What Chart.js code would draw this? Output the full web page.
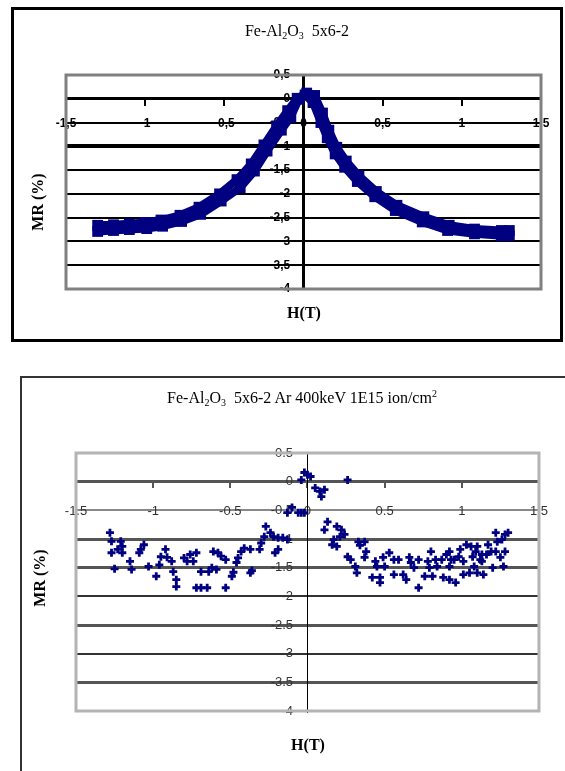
<!DOCTYPE html>
<html>
<head>
<meta charset="utf-8">
<script src="https://cdn.jsdelivr.net/npm/chart.js@4.4.1/dist/chart.umd.min.js"></script>
<style>
    body { margin: 0; background: #fff; width: 565px; height: 771px; position: relative; overflow: hidden;
           font-family: "Liberation Serif", "Times New Roman", serif; }
    .frame { position: absolute; box-sizing: border-box; }
    #frameTop { left: 11px; top: 7px; width: 552px; height: 335px; border: 3px solid #000; }
    #frameBot { left: 20px; top: 376px; width: 560px; height: 400px; border: 2px solid #333; }
    canvas { position: absolute; left: 0; }
    .title { position: absolute; font-size: 16px; white-space: nowrap; transform: translate(-50%, -50%); color: #000; }
    .title sub { font-size: 10px; vertical-align: -3px; }
    .title sup { font-size: 10px; vertical-align: 6px; }
    .axlab { position: absolute; font-weight: bold; font-size: 16px; white-space: nowrap; color: #000; }
    .ylab { transform: translate(-50%, -50%) rotate(-90deg); }
    .xlab { transform: translate(-50%, -50%); }
</style>
</head>
<body>
<div class="frame" id="frameTop"></div>
<div class="frame" id="frameBot"></div>
<canvas id="chartTop" width="565" height="345" style="top:0"></canvas>
<canvas id="chartBot" width="565" height="416" style="top:355px"></canvas>

<div class="title" style="left:297px; top:31px;">Fe-Al<sub>2</sub>O<sub>3</sub>&nbsp; 5x6-2</div>
<div class="axlab ylab" style="left:38px; top:202px;">MR (%)</div>
<div class="axlab xlab" style="left:304px; top:313px;">H(T)</div>

<div class="title" style="left:302px; top:398px;">Fe-Al<sub>2</sub>O<sub>3</sub>&nbsp; 5x6-2 Ar 400keV 1E15 ion/cm<sup>2</sup></div>
<div class="axlab ylab" style="left:40px; top:578px;">MR (%)</div>
<div class="axlab xlab" style="left:308px; top:745px;">H(T)</div>

<script>
// axis ticks + labels
const hTicks      = [-1.5, -1, -0.5, 0, 0.5, 1, 1.5];
const hLabelsTop  = ["-1,5", "-1", "-0,5", "0", "0,5", "1", "1,5"];
const hLabelsBot  = ["-1.5", "-1", "-0.5", "0", "0.5", "1", "1.5"];
const mrTicks     = [-4, -3.5, -3, -2.5, -2, -1.5, -1, -0.5, 0, 0.5];
const mrLabelsTop = ["-4", "-3,5", "-3", "-2,5", "-2", "-1,5", "-1", "-0,5", "0", "0,5"];
const mrLabelsBot = ["-4", "-3.5", "-3", "-2.5", "-2", "-1.5", "-1", "-0.5", "0", "0.5"];

// top chart: as-deposited loop, field sweep up / sweep down
const upH   = [-1.30, -1.20, -1.10, -1.00, -0.90, -0.78, -0.66, -0.53, -0.42, -0.33,
               -0.25, -0.17, -0.10, -0.04, 0.02, 0.07, 0.12, 0.16, 0.21, 0.27,
               0.35, 0.46, 0.59, 0.76, 0.92, 1.08, 1.25, 1.30];
const upMR  = [-2.66, -2.65, -2.63, -2.60, -2.55, -2.45, -2.28, -2.00, -1.70, -1.37,
               -0.97, -0.57, -0.25, 0.01, 0.12, 0.07, -0.30, -0.66, -1.02, -1.31,
               -1.62, -1.95, -2.24, -2.48, -2.66, -2.74, -2.77, -2.77];
const downH  = [1.30, 1.25, 1.08, 0.91, 0.75, 0.58, 0.45, 0.34, 0.26, 0.20,
                0.15, 0.11, 0.06, 0.01, -0.03, -0.08, -0.14, -0.23, -0.31, -0.40,
                -0.52, -0.65, -0.77, -0.89, -0.99, -1.10, -1.20, -1.30];
const downMR = [-2.88, -2.88, -2.84, -2.77, -2.59, -2.35, -2.06, -1.74, -1.44, -1.16,
                -0.82, -0.50, -0.08, 0.08, -0.01, -0.38, -0.66, -1.10, -1.52, -1.87,
                -2.15, -2.43, -2.58, -2.68, -2.73, -2.75, -2.77, -2.79];

// bottom chart: after Ar irradiation, [H, MR]
const irrNeg = [
    [-1.28,-0.89],[-1.27,-1.04],[-1.21,-1.04],[-1.20,-1.13],[-1.23,-1.18],[-1.27,-1.24],[-1.25,-1.52],[-1.20,-1.24],
    [-1.15,-1.39],[-1.14,-1.53],[-1.09,-1.24],[-1.06,-1.10],[-1.08,-1.18],[-1.03,-1.48],[-0.98,-1.65],[-0.96,-1.45],
    [-0.95,-1.31],[-0.92,-1.18],[-0.91,-1.32],[-0.88,-1.39],[-0.87,-1.57],[-0.85,-1.71],[-0.85,-1.83],[-0.80,-1.33],
    [-0.78,-1.39],[-0.76,-1.27],[-0.72,-1.24],[-0.74,-1.39],[-0.72,-1.85],[-0.69,-1.85],[-0.65,-1.85],[-0.69,-1.57],
    [-0.64,-1.57],[-0.62,-1.50],[-0.61,-1.22],[-0.58,-1.24],[-0.56,-1.30],[-0.53,-1.36],[-0.59,-1.53],[-0.53,-1.85],
    [-0.49,-1.65],[-0.48,-1.58],[-0.46,-1.41],[-0.45,-1.33],[-0.43,-1.22],[-0.41,-1.16],[-0.37,-1.18],[-0.37,-1.59],
    [-0.36,-1.55],[-0.31,-1.18],[-0.30,-1.07],[-0.28,-0.96],[-0.27,-0.78],[-0.24,-0.89],[-0.22,-0.96],[-0.19,-0.98],
    [-0.16,-0.98],[-0.13,-1.01],[-0.21,-1.24],[-0.19,-1.18],[-0.13,-0.54],[-0.10,-0.45],[-0.06,-0.54],[-0.02,-0.54]
];
const irrPos = [
    [0.00,0.12],[-0.02,0.16],[0.02,0.09],[-0.04,0.03],[0.05,-0.11],[0.08,-0.17],[0.09,-0.26],[0.11,-0.14],
    [0.26,0.03],[-0.04,-0.54],[0.13,-0.70],[0.11,-0.84],[0.19,-0.78],[0.22,-0.84],[0.24,-0.92],[0.21,-0.96],
    [0.17,-1.01],[0.16,-1.10],[0.19,-1.13],[0.33,-1.05],[0.37,-1.05],[0.34,-1.11],[0.26,-1.31],[0.28,-1.36],
    [0.31,-1.48],[0.32,-1.59],[0.38,-1.22],[0.37,-1.32],[0.44,-1.39],[0.45,-1.48],[0.49,-1.32],[0.50,-1.48],
    [0.53,-1.24],[0.56,-1.36],[0.59,-1.36],[0.42,-1.67],[0.47,-1.76],[0.47,-1.67],[0.56,-1.62],[0.62,-1.62],
    [0.64,-1.71],[0.66,-1.32],[0.67,-1.41],[0.72,-1.36],[0.69,-1.50],[0.72,-1.85],[0.76,-1.65],[0.78,-1.39],
    [0.79,-1.50],[0.80,-1.22],[0.81,-1.65],[0.83,-1.36],[0.84,-1.48],[0.88,-1.67],[0.87,-1.36],[0.90,-1.27],
    [0.92,-1.22],[0.93,-1.36],[0.92,-1.48],[0.92,-1.71],[0.96,-1.76],[0.95,-1.36],[0.98,-1.31],[1.01,-1.39],
    [0.99,-1.18],[1.03,-1.10],[1.06,-1.13],[1.01,-1.62],[1.05,-1.59],[1.07,-1.31],[1.09,-1.22],[1.08,-1.48],
    [1.10,-1.59],[1.12,-1.36],[1.13,-1.27],[1.14,-1.62],[1.17,-1.10],[1.19,-1.22],[1.20,-1.50],[1.22,-0.89],
    [1.23,-1.05],[1.25,-1.32],[1.26,-1.01],[1.28,-0.92],[1.27,-1.48],[1.28,-1.22],[1.22,-1.22],[1.10,-1.13],
    [1.16,-1.27],[1.13,-1.39],[1.30,-0.89]
];

const NAVY = "#000080";
const YLABEL_GAP = "    ";   // y labels sit a bit left of the centred axis

function toPoints(xs, ys) {
    return xs.map(function (x, i) { return { x: x, y: ys[i] }; });
}
function pairsToPoints(list) {
    return list.map(function (p) { return { x: p[0], y: p[1] }; });
}

// grey frame round the plot area (Excel style)
const plotFrame = {
    id: "plotFrame",
    beforeDatasetsDraw(chart, args, opts) {
        const a = chart.chartArea, c = chart.ctx;
        c.save();
        c.strokeStyle = opts.color;
        c.lineWidth = opts.width;
        c.strokeRect(a.left, a.top, a.right - a.left, a.bottom - a.top);
        c.restore();
    }
};

function baseOptions(cfg) {
    return {
        responsive: false,
        animation: false,
        layout: { padding: cfg.padding },
        plugins: {
            legend: { display: false },
            tooltip: { enabled: false },
            title: { display: false },
            plotFrame: { color: cfg.frameColor, width: cfg.frameWidth }
        },
        scales: {
            x: {
                type: "linear",
                position: { y: 0 },
                min: -1.5, max: 1.5,
                afterBuildTicks: function (s) { s.ticks = hTicks.map(function (v) { return { value: v }; }); },
                ticks: {
                    autoSkip: false, maxRotation: 0,
                    padding: cfg.xPad,
                    color: cfg.tickColor,
                    font: cfg.tickFont,
                    callback: function (v, i) { return cfg.hLabels[i]; }
                },
                grid: { drawOnChartArea: false, drawTicks: true, tickLength: cfg.xTickLen, color: cfg.xAxisColor, lineWidth: 2 },
                border: { color: cfg.xAxisColor, width: cfg.xAxisWidth }
            },
            y: {
                type: "linear",
                position: { x: 0 },
                min: -4, max: 0.5,
                afterBuildTicks: function (s) { s.ticks = mrTicks.map(function (v) { return { value: v }; }); },
                ticks: {
                    autoSkip: false,
                    padding: 8,
                    color: cfg.tickColor,
                    font: cfg.tickFont,
                    callback: function (v, i) { return cfg.mrLabels[i] + YLABEL_GAP; }
                },
                grid: {
                    drawTicks: true, tickLength: 5,
                    color: cfg.gridColor,
                    lineWidth: cfg.gridWidth
                },
                border: { color: cfg.yAxisColor, width: cfg.yAxisWidth }
            }
        }
    };
}

// ── TOP CHART ──
const topCfg = {
    padding: { left: 66, right: 24, top: 75, bottom: 56 },
    frameColor: "#808080", frameWidth: 3,
    xPad: 12, xTickLen: 6, tickColor: "#000",
    tickFont: { family: "Liberation Sans", size: 12, weight: "bold" },
    hLabels: hLabelsTop, mrLabels: mrLabelsTop,
    xAxisColor: "#000", xAxisWidth: 3,
    yAxisColor: "#000", yAxisWidth: 3,
    gridColor: function (c) { return (c.tick && (c.tick.value === 0.5 || c.tick.value === -4)) ? "rgba(0,0,0,0)" : "#000"; },
    gridWidth: function (c) { return (c.tick && c.tick.value === -1) ? 4 : 2; }
};

new Chart(document.getElementById("chartTop"), {
    type: "scatter",
    data: {
        datasets: [
            { label: "up", data: toPoints(upH, upMR), showLine: true, borderColor: NAVY, backgroundColor: NAVY,
              borderWidth: 8, pointStyle: "rect", pointRadius: 2, borderJoinStyle: "round", borderCapStyle: "square" },
            { label: "down", data: toPoints(downH, downMR), showLine: true, borderColor: NAVY, backgroundColor: NAVY,
              borderWidth: 8, pointStyle: "rect", pointRadius: 2, borderJoinStyle: "round", borderCapStyle: "square" }
        ]
    },
    options: baseOptions(topCfg),
    plugins: [plotFrame]
});

// ── BOTTOM CHART ──
const botCfg = {
    padding: { left: 76, right: 21, top: 98, bottom: 60 },
    frameColor: "#b4b4b4", frameWidth: 3,
    xPad: 17, xTickLen: 5, tickColor: "#333",
    tickFont: { family: "Liberation Sans", size: 13 },
    hLabels: hLabelsBot, mrLabels: mrLabelsBot,
    xAxisColor: "#555", xAxisWidth: 3,
    yAxisColor: "#000", yAxisWidth: 1,
    gridColor: function (c) {
        if (!c.tick) return "#555";
        const v = c.tick.value;
        if (v === 0.5 || v === -4) return "rgba(0,0,0,0)";
        if (v === -0.5) return "#888";
        if (v === -2 || v === -3) return "#333";
        return "#555";
    },
    gridWidth: function (c) {
        if (!c.tick) return 3;
        const v = c.tick.value;
        return (v === -0.5 || v === -2 || v === -3) ? 2 : 3;
    }
};

new Chart(document.getElementById("chartBot"), {
    type: "scatter",
    data: {
        datasets: [
            { label: "neg", data: pairsToPoints(irrNeg), borderColor: NAVY, backgroundColor: NAVY,
              pointStyle: "cross", pointRadius: 4, borderWidth: 2.8 },
            { label: "pos", data: pairsToPoints(irrPos), borderColor: NAVY, backgroundColor: NAVY,
              pointStyle: "cross", pointRadius: 4, borderWidth: 2.8 }
        ]
    },
    options: baseOptions(botCfg),
    plugins: [plotFrame]
});
</script>
</body>
</html>
